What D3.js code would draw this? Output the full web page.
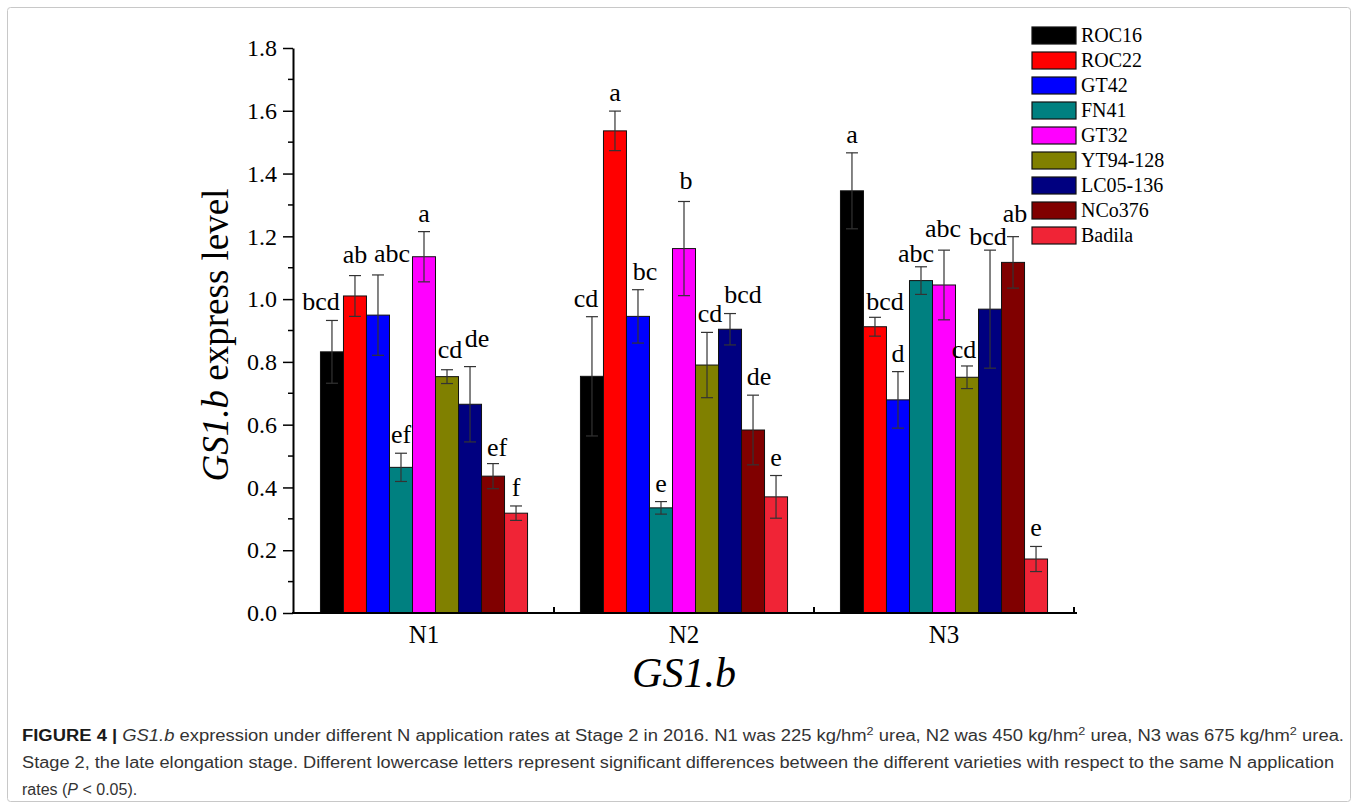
<!DOCTYPE html>
<html>
<head>
<meta charset="utf-8">
<script src="https://cdn.jsdelivr.net/npm/d3@7"></script>
<style>
  body { margin: 0; background: #fff; }
  svg { display: block; }
</style>
</head>
<body>
<div id="chart"></div>
<script>
// données
const groups = ['N1', 'N2', 'N3'];
const varieties = ['ROC16', 'ROC22', 'GT42', 'FN41', 'GT32', 'YT94-128', 'LC05-136', 'NCo376', 'Badila'];
const colors = ['#000000', '#ff0000', '#0000ff', '#008080', '#ff00ff', '#808000', '#000080', '#800000', '#f02436'];

const valuesN1 = [0.832, 1.010, 0.949, 0.464, 1.135, 0.753, 0.665, 0.436, 0.318];
const valuesN2 = [0.754, 1.536, 0.945, 0.335, 1.161, 0.790, 0.904, 0.583, 0.370];
const valuesN3 = [1.345, 0.912, 0.679, 1.059, 1.045, 0.751, 0.968, 1.117, 0.172];

const errN1 = [0.100, 0.065, 0.128, 0.045, 0.080, 0.022, 0.120, 0.040, 0.023];
const errN2 = [0.190, 0.063, 0.085, 0.020, 0.150, 0.104, 0.050, 0.111, 0.068];
const errN3 = [0.121, 0.030, 0.090, 0.044, 0.111, 0.036, 0.188, 0.082, 0.040];

const lettersN1 = ['bcd', 'ab', 'abc', 'ef', 'a', 'cd', 'de', 'ef', 'f'];
const lettersN2 = ['cd', 'a', 'bc', 'e', 'b', 'cd', 'bcd', 'de', 'e'];
const lettersN3 = ['a', 'bcd', 'd', 'abc', 'abc', 'cd', 'bcd', 'ab', 'e'];

const yTicks = [0.0, 0.2, 0.4, 0.6, 0.8, 1.0, 1.2, 1.4, 1.6, 1.8];

// décalages manuels des lettres (comme dans la figure d'origine)
const labelNudge = {
    'N1-ROC16': [-11, 0], 'N1-ROC22': [0, -3], 'N1-GT42': [14, -3], 'N1-YT94-128': [3, -2],
    'N1-LC05-136': [7, -10], 'N1-NCo376': [4, 2],
    'N2-ROC16': [-6, 0], 'N2-GT42': [7, 0], 'N2-GT32': [2, -2], 'N2-YT94-128': [3, 0],
    'N2-LC05-136': [13, -1], 'N2-NCo376': [6, 0],
    'N3-ROC22': [10, 3], 'N3-FN41': [-5, 5], 'N3-GT32': [-1, -3], 'N3-LC05-136': [-2, 5],
    'N3-NCo376': [2, -5], 'N3-YT94-128': [-3, 2]
};

const W = 1358, H = 806;
const serif = '"Liberation Serif", "Times New Roman", serif';
const sans = '"Liberation Sans", Arial, sans-serif';

const values = [valuesN1, valuesN2, valuesN3];
const errors = [errN1, errN2, errN3];
const letters = [lettersN1, lettersN2, lettersN3];

const barData = [];
groups.forEach((g, gi) => {
    varieties.forEach((v, vi) => {
        barData.push({ group: g, variety: v, value: values[gi][vi], err: errors[gi][vi], letter: letters[gi][vi], color: colors[vi] });
    });
});

const svg = d3.select('#chart').append('svg')
    .attr('width', W)
    .attr('height', H);

svg.append('rect').attr('width', W).attr('height', H).attr('fill', '#fff');

// cadre autour de la figure
svg.append('rect')
    .attr('x', 7.5).attr('y', 7.5)
    .attr('width', W - 15).attr('height', H - 12)
    .attr('rx', 3)
    .attr('fill', 'none')
    .attr('stroke', '#c8c8c8')
    .attr('stroke-width', 1);

// échelles
const yScale = d3.scaleLinear().domain([0, 1.8]).range([613, 48]);
const xGroup = d3.scaleBand().domain(groups).range([294, 1074]).paddingInner(0).paddingOuter(0);
const xBar = d3.scaleBand().domain(varieties).range([0, xGroup.bandwidth()]).paddingInner(0).paddingOuter(1.15);
const barCenter = d => xGroup(d.group) + xBar(d.variety) + xBar.bandwidth() / 2;
const nudge = d => labelNudge[d.group + '-' + d.variety] || [0, 0];

// axe Y
const yAxis = svg.append('g')
    .attr('transform', 'translate(293,0)')
    .call(d3.axisLeft(yScale).tickValues(yTicks).tickFormat(d3.format('.1f')).tickSize(10).tickSizeOuter(0));
yAxis.select('.domain').attr('stroke-width', 2);
yAxis.selectAll('.tick line').attr('stroke-width', 1.5);
yAxis.selectAll('.tick text')
    .attr('x', -16)
    .style('font-family', serif)
    .style('font-size', '24px')
    .attr('fill', '#000');

// petites graduations
const minorTicks = d3.range(0.1, 1.8, 0.2);
yAxis.selectAll('.minor')
    .data(minorTicks)
    .enter()
    .append('line')
    .attr('class', 'minor')
    .attr('x1', 0).attr('x2', -5)
    .attr('y1', d => yScale(d)).attr('y2', d => yScale(d))
    .attr('stroke', '#000')
    .attr('stroke-width', 1.5);

// barres
svg.selectAll('.bar')
    .data(barData)
    .enter()
    .append('rect')
    .attr('class', 'bar')
    .attr('x', d => xGroup(d.group) + xBar(d.variety))
    .attr('y', d => yScale(d.value))
    .attr('width', xBar.bandwidth())
    .attr('height', d => yScale(0) - yScale(d.value))
    .attr('fill', d => d.color)
    .attr('stroke', '#111')
    .attr('stroke-width', 1);

// barres d'erreur
const eb = svg.selectAll('.err')
    .data(barData)
    .enter()
    .append('g')
    .attr('class', 'err')
    .attr('transform', d => `translate(${barCenter(d)},0)`)
    .attr('stroke', '#333')
    .attr('stroke-width', 1.2);

eb.append('line')
    .attr('y1', d => yScale(d.value - d.err))
    .attr('y2', d => yScale(d.value + d.err));
eb.append('line')
    .attr('x1', -6).attr('x2', 6)
    .attr('y1', d => yScale(d.value + d.err))
    .attr('y2', d => yScale(d.value + d.err));
eb.append('line')
    .attr('x1', -6).attr('x2', 6)
    .attr('y1', d => yScale(d.value - d.err))
    .attr('y2', d => yScale(d.value - d.err));

// lettres de significativité
svg.selectAll('.letter')
    .data(barData)
    .enter()
    .append('text')
    .attr('class', 'letter')
    .attr('x', d => barCenter(d) + nudge(d)[0])
    .attr('y', d => yScale(d.value + d.err) - 10 + nudge(d)[1])
    .attr('text-anchor', 'middle')
    .style('font-family', serif)
    .style('font-size', '26px')
    .attr('fill', '#000')
    .text(d => d.letter);

// axe X
const xAxis = svg.append('g')
    .attr('transform', 'translate(0,613)');
xAxis.append('line')
    .attr('x1', 292).attr('x2', 1077)
    .attr('stroke', '#000')
    .attr('stroke-width', 2);
xAxis.selectAll('.sep')
    .data(groups)
    .enter()
    .append('line')
    .attr('class', 'sep')
    .attr('x1', d => xGroup(d) + xGroup.bandwidth())
    .attr('x2', d => xGroup(d) + xGroup.bandwidth())
    .attr('y1', 0).attr('y2', -6)
    .attr('stroke', '#000')
    .attr('stroke-width', 2);
xAxis.selectAll('.glabel')
    .data(groups)
    .enter()
    .append('text')
    .attr('x', d => xGroup(d) + xGroup.bandwidth() / 2)
    .attr('y', 30)
    .attr('text-anchor', 'middle')
    .style('font-family', serif)
    .style('font-size', '25px')
    .attr('fill', '#000')
    .text(d => d);

// titres des axes
svg.append('text')
    .attr('x', 684).attr('y', 687)
    .attr('text-anchor', 'middle')
    .style('font-family', serif)
    .style('font-style', 'italic')
    .style('font-size', '42px')
    .text('GS1.b');

const yTitle = svg.append('text')
    .attr('transform', 'translate(228,335) rotate(-90)')
    .attr('text-anchor', 'middle')
    .style('font-family', serif)
    .style('font-size', '37px');
yTitle.append('tspan').style('font-style', 'italic').text('GS1.b');
yTitle.append('tspan').text(' express level');

// légende
const legend = svg.append('g').attr('transform', 'translate(1032,27)');
const items = legend.selectAll('.item')
    .data(varieties)
    .enter()
    .append('g')
    .attr('class', 'item')
    .attr('transform', (d, i) => `translate(0,${i * 25})`);
items.append('rect')
    .attr('width', 44).attr('height', 17)
    .attr('fill', (d, i) => colors[i])
    .attr('stroke', '#111')
    .attr('stroke-width', 1.2);
items.append('text')
    .attr('x', 49).attr('y', 15)
    .style('font-family', serif)
    .style('font-size', '20px')
    .attr('fill', '#000')
    .text(d => d);

// légende de la figure
const cap = svg.append('g').style('font-family', sans).style('font-size', '16px').attr('fill', '#333');
const l1 = cap.append('text').attr('x', 22).attr('y', 741)
    .attr('textLength', 1322).attr('lengthAdjust', 'spacingAndGlyphs');
l1.append('tspan').style('font-weight', 'bold').attr('fill', '#1a1a1a').text('FIGURE 4 | ');
l1.append('tspan').style('font-style', 'italic').text('GS1.b');
l1.append('tspan').text(' expression under different N application rates at Stage 2 in 2016. N1 was 225 kg/hm');
l1.append('tspan').style('font-size', '11px').attr('dy', -6).text('2');
l1.append('tspan').attr('dy', 6).text(' urea, N2 was 450 kg/hm');
l1.append('tspan').style('font-size', '11px').attr('dy', -6).text('2');
l1.append('tspan').attr('dy', 6).text(' urea, N3 was 675 kg/hm');
l1.append('tspan').style('font-size', '11px').attr('dy', -6).text('2');
l1.append('tspan').attr('dy', 6).text(' urea.');

cap.append('text').attr('x', 22).attr('y', 768)
    .attr('textLength', 1312).attr('lengthAdjust', 'spacingAndGlyphs')
    .text('Stage 2, the late elongation stage. Different lowercase letters represent significant differences between the different varieties with respect to the same N application');

const l3 = cap.append('text').attr('x', 22).attr('y', 795);
l3.append('tspan').text('rates (');
l3.append('tspan').style('font-style', 'italic').text('P');
l3.append('tspan').text(' < 0.05).');
</script>
</body>
</html>
